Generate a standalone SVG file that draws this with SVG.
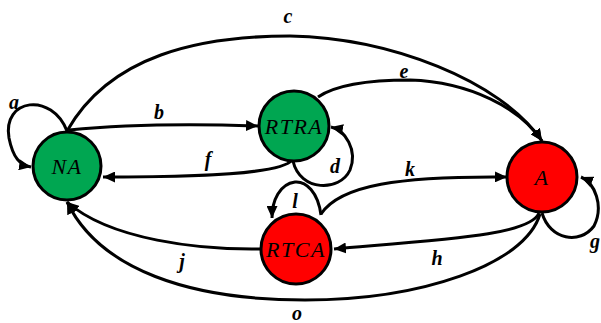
<svg xmlns="http://www.w3.org/2000/svg" width="601" height="323" viewBox="0 0 601 323">
<defs>
<marker id="arr" markerUnits="userSpaceOnUse" markerWidth="13" markerHeight="11" refX="12" refY="5.5" orient="auto">
<path d="M0,0 L12,5.5 L0,11 Z" fill="#000"/>
</marker>
<style>
.e{fill:none;stroke:#000;stroke-width:3;marker-end:url(#arr)}
.n{stroke:#000;stroke-width:3}
.g{fill:#00A651}
.r{fill:#FF0000}
.t{font-family:"Liberation Serif",serif;font-style:italic;font-size:22px;letter-spacing:1.5px;text-anchor:middle;fill:#000}
.l{font-family:"Liberation Serif",serif;font-style:italic;font-weight:bold;font-size:20px;text-anchor:middle;fill:#000}
</style>
</defs>
<rect width="601" height="323" fill="#fff"/>
<g id="connectors">
<path id="a" class="e" d="M67,131 C52,92 2,98 9,138 C13,158 20,165 31,167"/>
<path id="b" class="e" d="M69,130 C130,124 200,124 258,126"/>
<path id="c" class="e" d="M67,131 C110,55 200,36 290,36 C390,38 500,80 542,141"/>
<path id="e" class="e" d="M318,97 C340,82 380,80 410,80 C470,82 520,108 542,141"/>
<path id="f" class="e" d="M292,160 C282,174 200,177 103,177"/>
<path id="d" class="e" d="M293,161 C300,192 340,192 350,170 C358,150 345,130 331,127"/>
<path id="k" class="e" d="M321,214 C340,185 400,176 507,177"/>
<path id="l" class="e" d="M321,215 C318,192 306,181 295,182 C280,184 272,200 272,218"/>
<path id="h" class="e" d="M539,213 C530,235 450,239 334,249"/>
<path id="g" class="e" d="M542,213 C550,240 580,245 594,226 C604,206 595,183 581,177"/>
<path id="j" class="e" d="M261,249 C200,250 110,240 67,202"/>
<path id="o" class="e" d="M540,214 C525,265 420,300 305,300 C190,300 100,270 67,202"/>
</g>
<g id="NA"><circle class="n g" cx="67" cy="166" r="34"/><text class="t" x="67" y="174">NA</text></g>
<g id="RTRA"><circle class="n g" cx="294" cy="126" r="35"/><text class="t" x="294" y="134">RTRA</text></g>
<g id="A"><circle class="n r" cx="542" cy="177" r="35"/><text class="t" x="542" y="185">A</text></g>
<g id="RTCA"><circle class="n r" cx="296" cy="249" r="35"/><text class="t" x="296" y="257">RTCA</text></g>
<g id="labels">
<text class="l" x="14" y="109">a</text>
<text class="l" x="159" y="119">b</text>
<text class="l" x="288" y="23">c</text>
<text class="l" x="404" y="78">e</text>
<text class="l" x="208" y="166">f</text>
<text class="l" x="335" y="173">d</text>
<text class="l" x="410" y="176">k</text>
<text class="l" x="295" y="208">l</text>
<text class="l" x="437" y="265">h</text>
<text class="l" x="595" y="248">g</text>
<text class="l" x="182" y="268">j</text>
<text class="l" x="297" y="320">o</text>
</g>
</svg>
